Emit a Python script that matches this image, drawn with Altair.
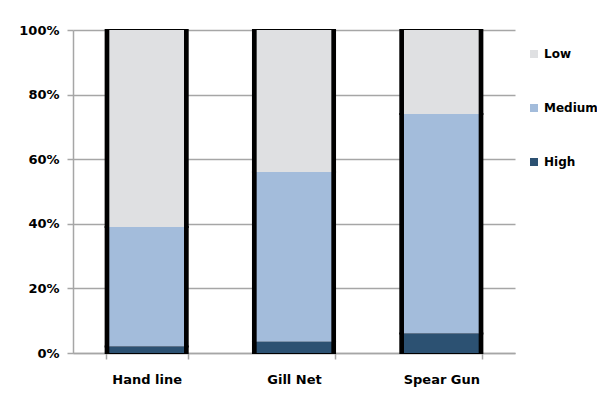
import altair as alt
import pandas as pd

categories = ["Hand line", "Gill Net", "Spear Gun"]
levels = ["Low", "Medium", "High"]
high = [2.0, 3.5, 6.0]
medium = [37.0, 52.5, 68.0]
low = [61.0, 44.0, 26.0]
level_colors = ["#dfe0e2", "#a3bcdb", "#2c5172"]
stack_rank = {"High": 0, "Medium": 1, "Low": 2}

rows = []
for i, c in enumerate(categories):
    for lvl, vals in (("High", high), ("Medium", medium), ("Low", low)):
        rows.append({"Method": c, "Level": lvl, "Value": vals[i], "rank": stack_rank[lvl]})
df = pd.DataFrame(rows)

FONT = "DejaVu Sans"

x_enc = alt.X(
    "Method:N",
    sort=categories,
    title=None,
    scale=alt.Scale(paddingInner=0.443, paddingOuter=0.2215),
    axis=alt.Axis(
        labelAngle=0, grid=False, tickBand="extent",
        domainColor="#a6a6a6", domainWidth=1.5, tickColor="#a6a6a6", tickWidth=1.5,
        tickSize=6, labelPadding=14, labelFont=FONT, labelFontWeight="bold",
        labelFontSize=13, labelColor="#000000",
    ),
)

y_axis = alt.Axis(
    format=".0%", values=[0, 0.2, 0.4, 0.6, 0.8, 1.0],
    grid=True, gridColor="#a6a6a6", gridWidth=1.5,
    domainColor="#a6a6a6", domainWidth=1.5, tickColor="#a6a6a6", tickWidth=1.5,
    tickSize=6, labelPadding=8, labelFont=FONT, labelFontWeight="bold",
    labelFontSize=13, labelColor="#000000", title=None,
)

outline = alt.Chart(df).mark_bar(color="#000000", stroke="#000000", strokeWidth=2).encode(
    x=x_enc,
    y=alt.Y("Value:Q", stack="normalize", axis=y_axis, scale=alt.Scale(domain=[0, 1])),
    order=alt.Order("rank:Q"),
)

segments = alt.Chart(df).mark_bar(width=alt.RelativeBandSize(0.91)).encode(
    x=x_enc,
    y=alt.Y("Value:Q", stack="normalize"),
    color=alt.Color(
        "Level:N",
        scale=alt.Scale(domain=levels, range=level_colors),
        legend=alt.Legend(
            title=None, orient="none", legendX=455, legendY=18,
            symbolType="square", symbolSize=64, symbolStrokeWidth=0,
            rowPadding=42, padding=0, labelOffset=4,
            labelFont=FONT, labelFontWeight="bold", labelFontSize=12,
            labelColor="#000000",
        ),
    ),
    order=alt.Order("rank:Q"),
)

chart = alt.layer(outline, segments).properties(
    width=442, height=323,
    autosize=alt.AutoSizeParams(type="none"),
    padding={"left": 65, "top": 22, "right": 82, "bottom": 42},
    background="#ffffff",
).configure_view(stroke=None)

chart.save("out.html", embed_options={"renderer": "svg", "actions": False})
